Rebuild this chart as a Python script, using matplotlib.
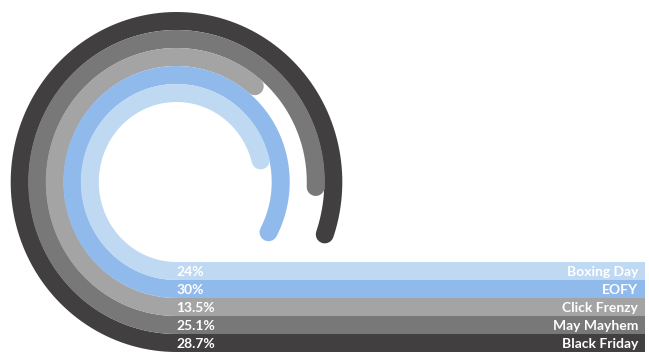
import numpy as np
import matplotlib
matplotlib.use("Agg")
import matplotlib.pyplot as plt

# innermost ring first, outermost last
names = ["Boxing Day", "EOFY", "Click Frenzy", "May Mayhem", "Black Friday"]
shares = [24, 30, 13.5, 25.1, 28.7]
share_labels = ["24%", "30%", "13.5%", "25.1%", "28.7%"]
# how far each ring wraps round (degrees)
arc_sweep = [256, 298, 220, 272, 289]
colors = ["#C0D9F3", "#90BAEB", "#A4A4A4", "#787878", "#423F40"]

W, H, DPI = 649, 352, 100
cx, cy = 176.5, 182.0      # centre of the rings, pixels
sx = 0.974                  # the source is slightly squashed sideways
r0, ring = 80, 18           # inner radius and ring width, pixels
bar_end = 645

fig = plt.figure(figsize=(W / DPI, H / DPI), dpi=DPI)
ax = fig.add_axes([0, 0, 1, 1])
ax.set_xlim(0, W)
ax.set_ylim(H, 0)
ax.axis("off")

lw = ring * 72 / DPI

for i in range(len(names) - 1, -1, -1):
    r = r0 + ring * i + ring / 2
    y_bar = cy + r
    # straight part at the bottom
    ax.barh(y_bar, bar_end - cx, left=cx, height=ring, color=colors[i], linewidth=0)
    # curved part, starting at the bottom and going clockwise
    theta = np.radians(np.linspace(270, 270 - arc_sweep[i], 300))
    x = cx + sx * r * np.cos(theta)
    y = cy - r * np.sin(theta)
    ax.plot(x, y, color=colors[i], lw=lw, solid_capstyle="round")

for i in range(len(names)):
    y_bar = cy + r0 + ring * i + ring / 2
    ax.text(cx, y_bar + 0.5, share_labels[i], color="white", fontsize=10,
            family="Lato", fontweight="bold", ha="left", va="center")
    ax.text(bar_end - 7, y_bar + 0.5, names[i], color="white", fontsize=10,
            family="Lato", fontweight="bold", ha="right", va="center")

fig.savefig("out.png", dpi=DPI)
